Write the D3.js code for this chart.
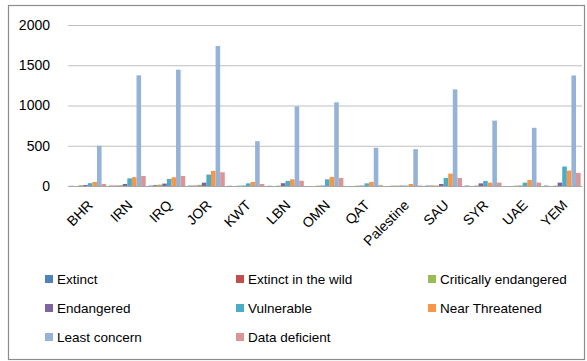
<!DOCTYPE html>
<html>
<head>
<meta charset="utf-8">
<script src="https://cdn.jsdelivr.net/npm/d3@7"></script>
<style>
  body { margin: 0; background: #fff; }
  svg { display: block; font-family: "Liberation Sans", Arial, sans-serif; overflow: hidden; }
  .axis text { fill: #000; }
</style>
</head>
<body>
<div id="chart"></div>
<script>
	// data
	const countries = ["BHR", "IRN", "IRQ", "JOR", "KWT", "LBN", "OMN", "QAT", "Palestine", "SAU", "SYR", "UAE", "YEM"];
	const series = ["Extinct", "Extinct in the wild", "Critically endangered", "Endangered", "Vulnerable", "Near Threatened", "Least concern", "Data deficient"];
	const extinct     = [2, 5, 5, 5, 3, 3, 0, 0, 0, 5, 5, 0, 5];
	const extinctWild = [0, 5, 10, 5, 0, 0, 0, 0, 3, 5, 0, 0, 0];
	const critically  = [10, 10, 17, 15, 5, 5, 5, 5, 5, 5, 5, 5, 5];
	const endangered  = [12, 25, 30, 42, 5, 35, 5, 5, 5, 25, 33, 5, 42];
	const vulnerable  = [35, 95, 88, 142, 33, 63, 83, 33, 5, 100, 63, 42, 242];
	const nearThreat  = [50, 110, 108, 188, 50, 83, 113, 50, 25, 154, 42, 75, 192];
	const leastConc   = [500, 1375, 1445, 1740, 557, 990, 1040, 475, 458, 1200, 812, 723, 1373];
	const dataDefic   = [25, 125, 125, 171, 25, 65, 100, 10, 5, 100, 42, 42, 163];
	const yTicks = [0, 500, 1000, 1500, 2000];
	const colors = ["#4F81BD", "#C0504D", "#9BBB59", "#8064A2", "#4BACC6", "#F79646", "#95B3D7", "#D99694"];

	const values = [extinct, extinctWild, critically, endangered, vulnerable, nearThreat, leastConc, dataDefic];
	const table = countries.map((c, i) => ({country: c, vals: series.map((s, j) => ({key: s, value: values[j][i], color: colors[j]}))}));

	const width = 587, height = 361;
	const plot = {left: 68, right: 582, top: 25, bottom: 186};

	const svg = d3.select("#chart").append("svg")
		.attr("width", width)
		.attr("height", height);

	// title, mostly cut off by the top edge as in the source picture
	svg.append("text")
		.attr("x", 268)
		.attr("y", -3)
		.attr("text-anchor", "middle")
		.style("font-size", "16px")
		.style("font-weight", "bold")
		.text("Number of species according to IUCN Red List database");

	svg.append("rect")
		.attr("x", 8.5).attr("y", 5.5)
		.attr("width", 576).attr("height", 354)
		.attr("fill", "none")
		.attr("stroke", "#8c8c8c")
		.attr("stroke-width", 1.2);

	/*============= scales ===============*/
	const x0 = d3.scaleBand()
		.domain(countries)
		.range([plot.left, plot.right]);
	const x1 = d3.scaleBand()
		.domain(series)
		.range([0, x0.bandwidth()])
		.paddingOuter(0.3);
	const y = d3.scaleLinear()
		.domain([0, 2000])
		.range([plot.bottom, plot.top]);

	// gridlines + y labels
	const gY = svg.append("g").attr("class", "axis")
		.attr("transform", `translate(${plot.left},0)`)
		.call(d3.axisLeft(y).tickValues(yTicks).tickFormat(d3.format("d"))
			.tickSize(-(plot.right - plot.left)).tickPadding(18));
	gY.select(".domain").remove();
	gY.selectAll("line").attr("stroke", "#bfbfbf").attr("stroke-width", 1.2);
	gY.selectAll("text").style("font-size", "14px");

	/*============= bars ===============*/
	svg.append("g").selectAll("g")
		.data(table)
		.join("g")
		.attr("transform", d => `translate(${x0(d.country)},0)`)
		.selectAll("rect")
		.data(d => d.vals)
		.join("rect")
		.attr("x", d => x1(d.key))
		.attr("y", d => y(d.value))
		.attr("width", x1.bandwidth())
		.attr("height", d => y(0) - y(d.value))
		.attr("fill", d => d.color);

	// x axis
	const gX = svg.append("g").attr("class", "axis")
		.attr("transform", `translate(0,${plot.bottom})`)
		.call(d3.axisBottom(x0).tickSize(0).tickPadding(0));
	gX.select(".domain").attr("stroke", "#a6a6a6").attr("stroke-width", 1.2);
	gX.selectAll("text")
		.style("font-size", "14px")
		.attr("text-anchor", "end")
		.attr("dy", 0)
		.attr("y", 0)
		.attr("transform", "translate(6,20) rotate(-45)");

	/*============= legend ===============*/
	const legendX = [45, 236, 428], legendY = [279, 308, 337];
	const legend = svg.append("g").selectAll("g")
		.data(series)
		.join("g")
		.attr("transform", (d, i) => `translate(${legendX[i % 3]},${legendY[Math.floor(i / 3)]})`);
	legend.append("rect")
		.attr("x", 0).attr("y", -4)
		.attr("width", 8).attr("height", 8)
		.attr("fill", (d, i) => colors[i]);
	legend.append("text")
		.attr("x", 12)
		.attr("dy", "0.35em")
		.style("font-size", "13.5px")
		.text(d => d);
</script>
</body>
</html>
